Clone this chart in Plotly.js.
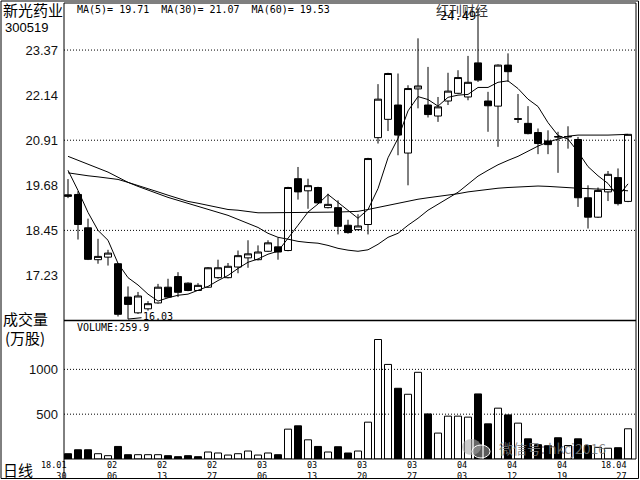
<!DOCTYPE html>
<html><head><meta charset="utf-8">
<script src="https://cdn.plot.ly/plotly-3.0.1.min.js"></script>
<style>html,body{margin:0;padding:0;background:#fff}#chart{width:640px;height:480px}</style>
</head><body><div id="chart"></div>
<script>
// ---------- data ----------
const tradeDates = ['2018-01-30','2018-01-31','2018-02-01','2018-02-02','2018-02-05','2018-02-06','2018-02-07','2018-02-08','2018-02-09','2018-02-12','2018-02-13','2018-02-14','2018-02-22','2018-02-23','2018-02-26','2018-02-27','2018-02-28','2018-03-01','2018-03-02','2018-03-05','2018-03-06','2018-03-07','2018-03-08','2018-03-09','2018-03-12','2018-03-13','2018-03-14','2018-03-15','2018-03-16','2018-03-19','2018-03-20','2018-03-21','2018-03-22','2018-03-23','2018-03-26','2018-03-27','2018-03-28','2018-03-29','2018-03-30','2018-04-02','2018-04-03','2018-04-04','2018-04-09','2018-04-10','2018-04-11','2018-04-12','2018-04-13','2018-04-16','2018-04-17','2018-04-18','2018-04-19','2018-04-20','2018-04-23','2018-04-24','2018-04-25','2018-04-26','2018-04-27'];
const openP  = [19.42,19.43,18.52,17.65,17.72,17.54,16.63,16.20,16.31,16.47,16.90,17.19,17.01,16.81,16.90,17.16,17.16,17.45,17.70,17.65,17.88,18.00,17.90,19.86,19.53,19.62,19.07,19.07,18.59,18.47,18.61,20.98,21.48,21.87,20.56,22.31,21.87,21.57,21.98,22.19,22.09,23.02,21.98,21.84,22.96,21.50,21.37,21.12,20.89,21.01,21.00,20.93,19.34,18.81,19.50,19.89,19.24];
const highP  = [19.85,19.52,18.77,18.22,17.92,17.56,16.92,16.77,16.52,16.99,17.13,17.31,17.03,17.01,17.45,17.65,17.56,17.90,18.18,18.04,18.18,18.25,19.64,20.18,19.86,19.64,19.45,19.27,18.74,18.89,20.43,22.44,22.75,22.73,22.41,23.69,22.91,22.09,22.75,22.82,23.21,24.49,22.23,22.98,23.28,22.17,21.84,21.23,21.18,21.14,21.29,21.00,19.68,19.62,20.07,20.14,21.08];
const lowP   = [19.33,18.20,17.64,17.54,17.49,16.10,16.03,16.17,16.26,16.45,16.61,16.63,16.79,16.80,16.88,17.13,17.14,17.28,17.43,17.63,17.86,17.65,17.88,19.29,19.04,19.18,19.05,18.34,18.36,18.45,18.34,20.82,21.16,20.50,19.68,21.78,21.53,21.41,21.87,22.17,22.00,22.50,21.14,20.73,22.50,21.38,21.07,20.53,20.53,20.02,20.68,19.09,18.50,18.79,19.25,19.13,19.22];
const closeP = [19.38,18.61,17.66,17.74,17.83,16.16,16.43,16.66,16.45,16.90,16.63,16.76,16.81,16.95,17.43,17.43,17.47,17.76,17.81,17.86,18.11,17.86,19.62,19.50,19.67,19.20,19.16,18.56,18.39,18.57,20.41,22.03,22.73,21.05,22.32,22.39,21.61,21.82,22.25,22.62,22.49,22.55,21.85,22.96,22.78,21.48,21.09,20.82,20.79,21.00,21.01,19.34,18.81,19.54,19.98,19.18,21.07];
const ma5  = [20.09,19.54,18.94,18.45,18.18,17.55,17.16,16.96,16.71,16.52,16.61,16.68,16.71,16.81,16.92,17.08,17.22,17.41,17.58,17.67,17.80,17.88,18.25,18.59,18.95,19.17,19.43,19.22,19.00,18.78,19.02,19.59,20.43,20.96,21.71,22.10,22.02,21.84,22.08,22.14,22.16,22.35,22.35,22.49,22.53,22.32,22.03,21.83,21.39,21.04,20.94,20.59,20.19,19.94,19.73,19.37,19.72];
const ma30 = [20.47,20.36,20.25,20.15,20.04,19.90,19.76,19.65,19.54,19.45,19.35,19.27,19.19,19.11,19.02,18.94,18.86,18.75,18.64,18.53,18.37,18.26,18.21,18.15,18.12,18.10,18.04,17.96,17.91,17.88,17.92,18.07,18.26,18.37,18.59,18.78,19.00,19.16,19.33,19.49,19.71,19.93,20.09,20.24,20.36,20.47,20.61,20.75,20.86,20.95,21.02,21.05,21.04,21.05,21.05,21.05,21.07];
const ma60 = [20.02,19.97,19.94,19.91,19.88,19.84,19.76,19.68,19.60,19.50,19.41,19.33,19.24,19.19,19.13,19.08,19.02,19.00,18.96,18.93,18.93,18.93,18.93,18.93,18.94,18.94,18.95,18.95,18.96,18.97,19.02,19.08,19.13,19.19,19.24,19.30,19.34,19.37,19.41,19.45,19.50,19.54,19.57,19.60,19.62,19.64,19.65,19.66,19.65,19.64,19.63,19.60,19.59,19.58,19.56,19.55,19.53];
const volume = [59,103,103,59,37,140,48,48,48,48,37,26,37,26,78,67,44,59,89,44,67,48,333,370,214,140,78,137,67,89,411,1333,1055,789,722,967,503,289,478,478,467,726,392,567,492,400,225,160,148,237,150,225,150,130,120,126,337];
const volUp  = [0,0,0,1,1,0,0,1,1,1,0,0,0,0,1,1,1,1,1,1,1,0,1,0,1,0,1,0,0,1,1,1,1,0,1,1,0,1,1,1,1,0,0,1,0,1,0,0,0,0,1,0,0,1,1,0,1];
const priceTicks = [23.37,22.14,20.91,19.68,18.45,17.23];
const priceGrid  = [23.37,20.91,18.45];
const volTicks   = [1000,500];
const tickDates  = ['2018-01-30','2018-02-06','2018-02-13','2018-02-27','2018-03-06','2018-03-13','2018-03-20','2018-03-27','2018-04-03','2018-04-12','2018-04-19','2018-04-27'];
const tickTop    = ['18.01','02','02','02','03','03','03','03','04','04','04','18.04'];
const tickBottom = ['30','06','13','27','06','13','20','27','03','12','19','27'];
const stockName = '新光药业', stockCode = '300519';
const maLabel = 'MA(5)= 19.71  MA(30)= 21.07  MA(60)= 19.53';
const volLabel = 'VOLUME:259.9';
const lowMark = {date:'2018-02-07', value:16.03, text:'16.03'};
const highMark = {date:'2018-04-04', value:24.49, text:'24.49'};

// ---------- layout helpers (pixel -> paper) ----------
const W=640,H=480,L=64,R=4,T=3,B=21;
const PW=W-L-R, PH=H-T-B;
const fx = px => (px-L)/PW;
const fy = py => (H-B-py)/PH;
const CJK='Noto Sans CJK SC', MONO='DejaVu Sans Mono', SANS='Liberation Sans';

const traces = [
  {type:'candlestick', x:tradeDates, open:openP, high:highP, low:lowP, close:closeP,
   xaxis:'x', yaxis:'y', whiskerwidth:0, hoverinfo:'none',
   increasing:{line:{color:'#000',width:1}, fillcolor:'#fff'},
   decreasing:{line:{color:'#000',width:1}, fillcolor:'#000'}},
  {type:'scatter', mode:'lines', x:tradeDates, y:ma5,  xaxis:'x', yaxis:'y', line:{color:'#000',width:1}, hoverinfo:'none'},
  {type:'scatter', mode:'lines', x:tradeDates, y:ma30, xaxis:'x', yaxis:'y', line:{color:'#000',width:1}, hoverinfo:'none'},
  {type:'scatter', mode:'lines', x:tradeDates, y:ma60, xaxis:'x', yaxis:'y', line:{color:'#000',width:1}, hoverinfo:'none'},
  {type:'bar', x:tradeDates, y:volume, xaxis:'x2', yaxis:'y2', width:0.7,
   marker:{color:volUp.map(u=>u?'#fff':'#000'), line:{color:'#000',width:1}}, hoverinfo:'none'}
];

const shapes = [];
priceGrid.forEach(v=>shapes.push({type:'line',xref:'paper',yref:'y',x0:0,x1:1,y0:v,y1:v,line:{color:'#000',width:1,dash:'1px,2px'}}));
volTicks.forEach(v=>shapes.push({type:'line',xref:'paper',yref:'y2',x0:0,x1:1,y0:v,y1:v,line:{color:'#000',width:1,dash:'1px,2px'}}));
// frames
shapes.push({type:'rect',xref:'paper',yref:'paper',x0:fx(1),x1:fx(638.5),y0:fy(478.5),y1:fy(1),line:{color:'#000',width:1}});
shapes.push({type:'rect',xref:'paper',yref:'paper',x0:0,x1:1,y0:0,y1:1,line:{color:'#000',width:1}});
shapes.push({type:'line',xref:'paper',yref:'paper',x0:0,x1:0,y0:fy(478.5),y1:0,line:{color:'#000',width:1}});
shapes.push({type:'line',xref:'paper',yref:'paper',x0:0,x1:1,y0:fy(320.5),y1:fy(320.5),line:{color:'#000',width:1.5}});
// wechat icon watermark
shapes.push({type:'circle',xref:'paper',yref:'paper',x0:fx(462),x1:fx(481),y0:fy(455),y1:fy(439),fillcolor:'rgba(170,170,170,0.6)',line:{width:0}});
shapes.push({type:'circle',xref:'paper',yref:'paper',x0:fx(472),x1:fx(490),y0:fy(458),y1:fy(445),fillcolor:'rgba(150,150,150,0.6)',line:{color:'#fff',width:1}});

const ann = [];
const txt = (x,y,text,size,family,opts) => Object.assign({xref:'paper',yref:'paper',x:fx(x),y:fy(y),text:text,showarrow:false,xanchor:'left',yanchor:'middle',font:{size:size,family:family,color:'#000'}},opts||{});
ann.push(txt(1,9,stockName,15,CJK));
ann.push(txt(3,27,stockCode,13,SANS));
ann.push(txt(75,10,maLabel,10,MONO));
ann.push(txt(75,327,volLabel,10,MONO));
ann.push(txt(1,318,'成交量',15,CJK));
ann.push(txt(3,337,'(万股)',15,CJK));
ann.push(txt(1,469,'日线',15,CJK));
ann.push(txt(497,448,'微信号: hkcj2016',14,CJK,{font:{size:14,family:CJK,color:'rgba(120,120,120,0.85)'}}));
ann.push({xref:'paper',yref:'paper',x:fx(462),y:fy(9),text:'红刊财经',showarrow:false,xanchor:'center',yanchor:'middle',font:{size:13,family:CJK,color:'#333'}});
ann.push({xref:'x',yref:'y',x:highMark.date,y:highMark.value,text:highMark.text,showarrow:false,xanchor:'right',yanchor:'top',yshift:2,font:{size:12,family:MONO,color:'#000'}});
ann.push({xref:'x',yref:'y',x:lowMark.date,y:lowMark.value,text:lowMark.text,showarrow:true,arrowhead:0,arrowwidth:1,arrowcolor:'#000',ax:30,ay:-3,font:{size:10,family:MONO,color:'#000'}});
tickDates.forEach((d,i)=>{
  ann.push({xref:'x',yref:'paper',x:d,y:fy(470),text:tickTop[i]+'<br>'+tickBottom[i],showarrow:false,align:'right',xanchor:'right',yanchor:'middle',xshift:1,font:{size:8.5,family:MONO,color:'#000'}});
});

const layout = {
  width:W, height:H, margin:{l:L,r:R,t:T,b:B,pad:0},
  paper_bgcolor:'#fff', plot_bgcolor:'#fff', showlegend:false, bargap:0.3,
  boxgap:0.3, boxgroupgap:0,
  xaxis:{type:'category',domain:[0,1],anchor:'y',range:[-0.4,56.8],showticklabels:false,showgrid:false,zeroline:false,ticks:'',rangeslider:{visible:false},fixedrange:true},
  xaxis2:{type:'category',domain:[0,1],anchor:'y2',matches:'x',range:[-0.4,56.8],showticklabels:false,showgrid:false,zeroline:false,ticks:''},
  yaxis:{domain:[fy(320.5),1],range:[15.991,24.654],tickvals:priceTicks,ticktext:priceTicks.map(v=>v.toFixed(2)),showgrid:false,zeroline:false,ticks:'',ticklabelstandoff:5,tickfont:{size:13,family:SANS,color:'#111'},fixedrange:true},
  yaxis2:{domain:[0,fy(320.5)],range:[0,1545],tickvals:volTicks,ticktext:volTicks.map(String),showgrid:false,zeroline:false,ticks:'',ticklabelstandoff:5,tickfont:{size:13,family:SANS,color:'#111'},fixedrange:true},
  shapes:shapes, annotations:ann
};
Plotly.newPlot('chart', traces, layout, {staticPlot:true});
</script></body></html>
